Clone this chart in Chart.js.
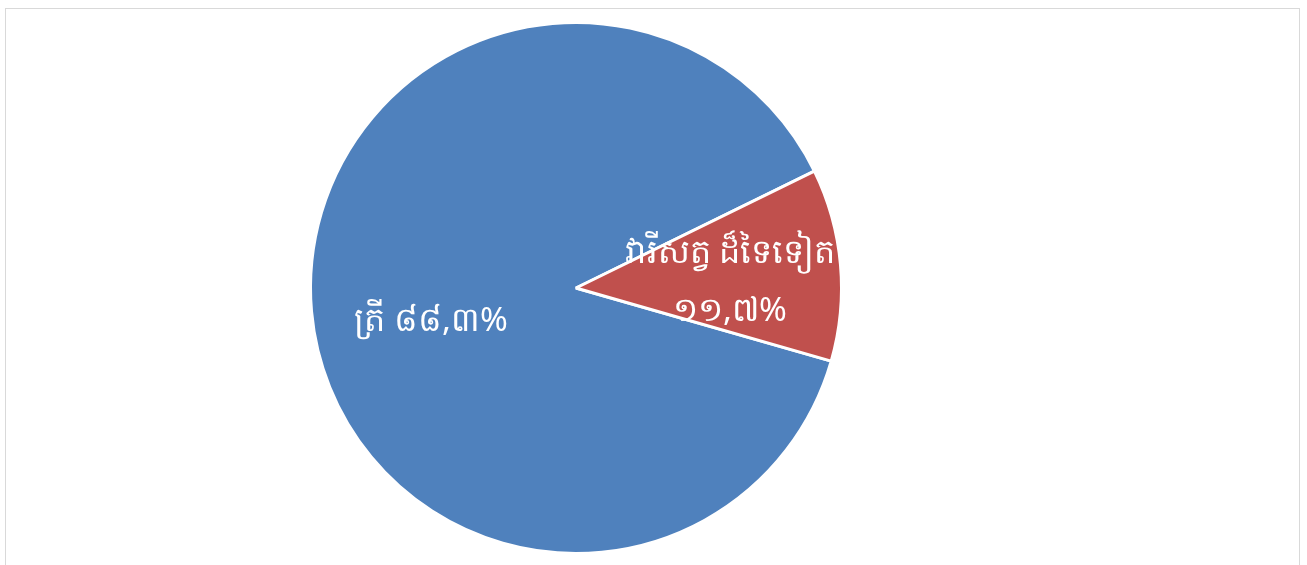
<!DOCTYPE html>
<html>
<head>
<meta charset="utf-8">
<script src="https://cdn.jsdelivr.net/npm/chart.js@4.4.1/dist/chart.umd.min.js"></script>
<style>
    html, body { margin: 0; padding: 0; background: #fff; }
    #wrap { position: relative; width: 1307px; height: 565px; overflow: hidden; }
    #frame {
        position: absolute; left: 5px; top: 8px; width: 1295px; height: 600px;
        border: 1.5px solid #d9d9d9; box-sizing: border-box;
    }
    #pieChart { position: absolute; left: 0; top: 0; }
</style>
</head>
<body>
<div id="wrap">
    <div id="frame"></div>
    <canvas id="pieChart" width="1307" height="565"></canvas>
</div>
<script>
let categoryNames = [
    "ត្រី",
    "វារីសត្វ ដ៏ទៃទៀត"
];

let shareValues = [88.3, 11.7];

let shareLabels = ["៨៨,៣%", "១១,៧%"];

let sliceColors = [
    "#4F81BD",  // ត្រី
    "#C0504D"   // វារីសត្វ ដ៏ទៃទៀត
];

// label lines per slice: name and percent on one line or two
let labelLines = [
    [categoryNames[0] + " " + shareLabels[0]],
    [categoryNames[1], shareLabels[1]]
];

// draws the white labels inside the slices
const sliceLabels = {
    id: "sliceLabels",
    afterDatasetsDraw(chart, args, opts) {
        const ctx = chart.ctx;
        const meta = chart.getDatasetMeta(0);
        ctx.save();
        ctx.fillStyle = "#FFFFFF";
        ctx.font = opts.font;
        ctx.textAlign = "center";
        ctx.textBaseline = "middle";
        meta.data.forEach((arc, i) => {
            const p = arc.getProps(["x", "y", "startAngle", "endAngle", "outerRadius"], true);
            const mid = (p.startAngle + p.endAngle) / 2 + (opts.angleShift[i] || 0) * Math.PI / 180;
            const r = p.outerRadius * opts.radiusRatio[i];
            const cx = p.x + Math.cos(mid) * r;
            const cy = p.y + Math.sin(mid) * r;
            const lines = labelLines[i];
            const top = cy - (lines.length - 1) * opts.lineHeight / 2;
            lines.forEach((line, j) => {
                ctx.fillText(line, cx, top + j * opts.lineHeight);
            });
        });
        ctx.restore();
    }
};

new Chart(document.getElementById("pieChart"), {
    type: "pie",
    data: {
        labels: categoryNames,
        datasets: [{
            data: shareValues,
            backgroundColor: sliceColors,
            borderColor: "#FFFFFF",
            borderWidth: 3
        }]
    },
    options: {
        responsive: false,
        animation: false,
        rotation: 106,
        layout: {
            padding: { left: 0, right: 155, top: 21, bottom: 10 }
        },
        plugins: {
            legend: { display: false },
            tooltip: { enabled: false },
            title: { display: false },
            sliceLabels: {
                font: "33.5px 'Noto Sans', 'DejaVu Sans', sans-serif",
                lineHeight: 58,
                radiusRatio: [0.56, 0.58],
                angleShift: [-8, 3]
            }
        }
    },
    plugins: [sliceLabels]
});
</script>
</body>
</html>
